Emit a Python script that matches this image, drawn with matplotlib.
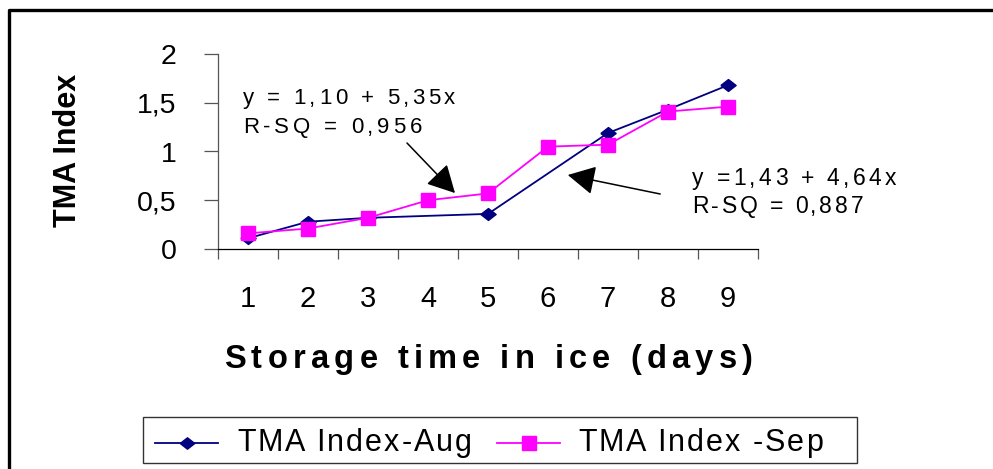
import numpy as np
import matplotlib
matplotlib.use("Agg")
import matplotlib.pyplot as plt
from matplotlib.font_manager import FontProperties
from matplotlib.transforms import IdentityTransform
from matplotlib.lines import Line2D
from matplotlib.patches import Rectangle

# TMA index of fish stored in ice, two sampling months
days = [1, 2, 3, 4, 5, 6, 7, 8, 9]
tma_aug = [0.11, 0.28, 0.32, np.nan, 0.36, np.nan, 1.19, 1.43, 1.68]
tma_sep = [0.16, 0.21, 0.32, 0.50, 0.57, 1.05, 1.07, 1.41, 1.46]
y_ticks = [0, 0.5, 1, 1.5, 2]
y_tick_labels = ["0", "0,5", "1", "1,5", "2"]
series_names = ["TMA Index-Aug", "TMA Index -Sep"]
sep_fit = ["y = 1,10 + 5,35x", "R-SQ = 0,956"]
aug_fit = ["y =1,43 + 4,64x", "R-SQ = 0,887"]

W, H = 993, 469
NAVY = "#000080"
MAGENTA = "#FF00FF"
plt.rcParams["font.family"] = ["Liberation Sans", "DejaVu Sans"]

fig = plt.figure(figsize=(W / 100, H / 100), dpi=100)
fig.patch.set_facecolor("white")
renderer = fig.canvas.get_renderer()


def spaced_text(x, y_top, s, width, size, weight="normal"):
    # lay the string out char by char so it spans `width` pixels
    fp = FontProperties(family="Liberation Sans", size=size, weight=weight)
    bars = renderer.get_text_width_height_descent("||", fp, ismath=False)[0]

    def wid(t):
        return renderer.get_text_width_height_descent("|" + t + "|", fp, ismath=False)[0] - bars

    extra = (width - wid(s)) / max(len(s) - 1, 1)
    for i, ch in enumerate(s):
        if ch == " ":
            continue
        fig.text(x + wid(s[:i]) + i * extra, H - y_top, ch, transform=IdentityTransform(),
                 fontproperties=fp, ha="left", va="baseline", color="black")


# axes box in pixels: x 218..758, y 54..249 from the top
ax = fig.add_axes([218 / W, (H - 249) / H, 540 / W, 195 / H])
ax.set_xlim(0.5, 9.5)
ax.set_ylim(0, 2)

aug_x = [d for d, v in zip(days, tma_aug) if not np.isnan(v)]
aug_y = [v for v in tma_aug if not np.isnan(v)]
diamond = [(-1, 0), (0, 0.78), (1, 0), (0, -0.78), (-1, 0)]
ax.plot(aug_x, aug_y, color=NAVY, lw=1.3, marker=diamond, ms=11, zorder=3, clip_on=False)
ax.plot(days, tma_sep, color=MAGENTA, lw=1.3, marker="s", ms=10.5, zorder=4, clip_on=False)

for side in ["top", "right"]:
    ax.spines[side].set_visible(False)
ax.spines["left"].set_color("#555555")
ax.spines["bottom"].set_color("black")
ax.spines["left"].set_linewidth(0.9)
ax.spines["bottom"].set_linewidth(0.9)

ax.set_yticks(y_ticks)
ax.set_yticklabels(y_tick_labels)
ax.tick_params(axis="y", length=10, width=0.9, color="#555555", pad=20, labelsize=20.5)

ax.set_xticks(np.arange(0.5, 10, 1))
ax.set_xticks(days, minor=True)
ax.set_xticklabels([str(d) for d in days], minor=True)
ax.tick_params(axis="x", which="major", length=7, width=0.9, color="#555555", labelbottom=False)
ax.tick_params(axis="x", which="minor", length=0, pad=26, labelsize=21)

# regression notes with arrows
arrow = dict(arrowstyle="-|>,head_length=0.85,head_width=0.45", mutation_scale=20,
             color="black", lw=1.1, shrinkA=0, shrinkB=0)
ax.annotate("", xy=(4.45, 0.574), xytext=(3.65, 1.087), arrowprops=arrow, annotation_clip=False)
ax.annotate("", xy=(6.33, 0.759), xytext=(7.87, 0.564), arrowprops=arrow, annotation_clip=False)

spaced_text(243, 104, sep_fit[0], 212, 16)
spaced_text(243, 133, sep_fit[1], 179, 16)
spaced_text(692, 185, aug_fit[0], 204, 16.5)
spaced_text(692, 213, aug_fit[1], 171, 16.5)

# axis titles
spaced_text(224, 368, "Storage time in ice (days)", 529, 23.5, weight="bold")
fig.text(68, H - 150, "TMA Index", transform=IdentityTransform(), rotation=90,
         ha="center", va="center", fontsize=22, fontweight="bold")

# legend drawn by hand
fig.add_artist(Rectangle((143, H - 463), 714, 46, transform=IdentityTransform(),
                         facecolor="white", edgecolor="#333333", lw=1.0))
for (x0, x1), color, mk, name, tx, tw in [((155, 218), NAVY, diamond, series_names[0], 237, 235),
                                          ((497, 560), MAGENTA, "s", series_names[1], 578, 245)]:
    fig.add_artist(Line2D([x0, x1], [H - 443, H - 443], transform=IdentityTransform(),
                          color=color, lw=1.3))
    fig.add_artist(Line2D([(x0 + x1) / 2], [H - 443], transform=IdentityTransform(),
                          color=color, marker=mk, ms=10.5, lw=0))
    spaced_text(tx, 451, name, tw, 22)

# outer chart frame
fig.add_artist(Line2D([9 / W, 9 / W, 1.01], [-0.01, 1 - 10 / H, 1 - 10 / H],
                      transform=fig.transFigure, color="black", lw=2.4))

fig.savefig("out.png", dpi=100)
